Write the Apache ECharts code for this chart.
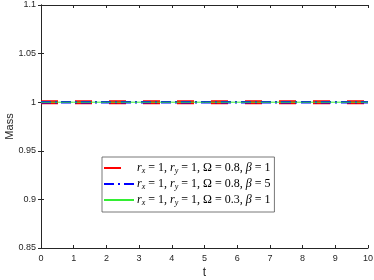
<!DOCTYPE html>
<html><head><meta charset="utf-8">
<script src="https://cdn.jsdelivr.net/npm/echarts@6/dist/echarts.min.js"></script>
<style>html,body{margin:0;padding:0;background:#fff}#c{width:374px;height:280px}</style>
</head><body><div id="c"></div>
<script>
const tValues = [0,1,2,3,4,5,6,7,8,9,10];
const massRed = [1,1,1,1,1,1,1,1,1,1,1];
const massBlue = [1,1,1,1,1,1,1,1,1,1,1];
const massGreen = [1,1,1,1,1,1,1,1,1,1,1];
const xTicks = [0,1,2,3,4,5,6,7,8,9,10];
const yTicks = [0.85,0.9,0.95,1,1.05,1.1];
const omegas = {A:'0.8',B:'0.8',C:'0.3'};
const betas = {A:'1',B:'5',C:'1'};

const pair = (xs, ys) => xs.map((x,i)=>[x,ys[i]]);
const axisCol = '#262626';
const chart = echarts.init(document.getElementById('c'), null, {renderer:'canvas'});
const tickFont = {fontFamily:'Liberation Sans', fontSize:9, color:'#262626'};
chart.setOption({
  animation:false,
  grid:{left:41,right:6,top:5,bottom:32,containLabel:false,outerBoundsMode:'none'},
  legend:{
    orient:'vertical', left:102, top:157,
    data:['A','B','C'],
    backgroundColor:'#fff', borderColor:'#555', borderWidth:0.8,
    padding:[5,4,5,1], itemGap:3, itemWidth:30, itemHeight:14,
    itemStyle:{opacity:0},
    formatter: n => `{i|r}{s|x}{n| = 1, }{i|r}{s|y}{n| = 1, Ω = ${omegas[n]}, }{i|β}{n| = ${betas[n]}}`,
    textStyle:{
      fontFamily:'Liberation Serif', fontSize:12, color:'#000', padding:[0,0,0,-2],
      rich:{
        n:{fontFamily:'Liberation Serif',fontSize:12,lineHeight:14,color:'#000'},
        i:{fontFamily:'Liberation Serif',fontStyle:'italic',fontSize:12,lineHeight:14,color:'#000'},
        s:{fontFamily:'Liberation Serif',fontStyle:'italic',fontSize:8,lineHeight:9,verticalAlign:'bottom',color:'#000'}
      }
    }
  },
  xAxis:[{
    type:'value', min:0, max:10, interval:1,
    name:'t', nameLocation:'middle', nameGap:19, nameMoveOverlap:false,
    nameTextStyle:{fontFamily:'Liberation Sans',fontSize:12,color:'#262626'},
    axisLine:{lineStyle:{color:axisCol,width:1}},
    axisTick:{inside:true,length:3,lineStyle:{color:axisCol}},
    axisLabel:Object.assign({margin:6},tickFont),
    splitLine:{show:false}
  },{
    type:'value', position:'top', min:0, max:10, interval:1,
    axisLine:{show:true,lineStyle:{color:axisCol,width:1}},
    axisTick:{inside:true,length:3,lineStyle:{color:axisCol}},
    axisLabel:{show:false}, splitLine:{show:false}
  }],
  yAxis:[{
    type:'value', min:0.85, max:1.1, interval:0.05,
    name:'Mass', nameLocation:'middle', nameGap:26, nameMoveOverlap:false,
    nameTextStyle:{fontFamily:'Liberation Sans',fontSize:11,color:'#262626'},
    axisLine:{show:true,lineStyle:{color:axisCol,width:1}},
    axisTick:{show:true,inside:true,length:3,lineStyle:{color:axisCol}},
    axisLabel:Object.assign({margin:5,formatter:v=>String(+v.toFixed(2))},tickFont),
    splitLine:{show:false}
  },{
    type:'value', position:'right', min:0.85, max:1.1, interval:0.05,
    axisLine:{show:true,lineStyle:{color:axisCol,width:1}},
    axisTick:{show:true,inside:true,length:3,lineStyle:{color:axisCol}},
    axisLabel:{show:false}, splitLine:{show:false}
  }],
  series:[
    {name:'A',type:'line',data:pair(tValues,massRed),symbol:'none',
     lineStyle:{color:'#ff0000',width:4,type:[17,17]},itemStyle:{color:'#ff0000'}},
    {name:'B',type:'line',data:pair(tValues,massBlue),symbol:'none',
     lineStyle:{color:'#0000ff',width:2.5,type:[10,4,2,4]},itemStyle:{color:'#0000ff'}},
    {name:'C',type:'line',data:pair(tValues,massGreen),symbol:'none',
     lineStyle:{color:'#33ee33',width:1,type:'solid'},itemStyle:{color:'#33ee33'}}
  ]
});
</script></body></html>
